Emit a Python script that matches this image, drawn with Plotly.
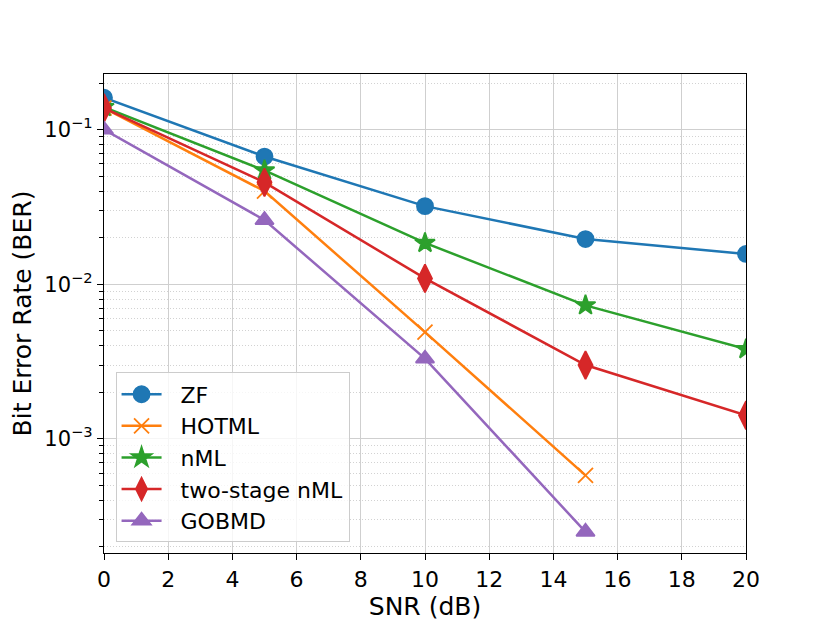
import plotly.graph_objects as go

snr = [0, 5, 10, 15, 20]
snr_short = [0, 5, 10, 15]

ber_zf = [0.161, 0.067, 0.032, 0.0196, 0.0157]
ber_hotml = [0.138, 0.040, 0.0049, 0.00058]
ber_nml = [0.140, 0.0545, 0.0185, 0.0073, 0.0038]
ber_two_stage = [0.138, 0.0456, 0.0109, 0.0030, 0.00142]
ber_gobmd = [0.100, 0.026, 0.0033, 0.00025]

# (name, x, y, colour, marker, size)
series = [
    ("ZF", snr, ber_zf, "#1f77b4", "circle", 16),
    ("HOTML", snr_short, ber_hotml, "#ff7f0e", "x-thin-open", 15),
    ("nML", snr, ber_nml, "#2ca02c", "star", 15),
    ("two-stage nML", snr, ber_two_stage, "#d62728", "diamond-tall", 20),
    ("GOBMD", snr_short, ber_gobmd, "#9467bd", "triangle-up", 16),
]

fig = go.Figure()
for name, x, y, col, sym, sz in series:
    fig.add_trace(go.Scatter(
        x=x, y=y, name="\u00a0\u00a0" + name, mode="lines+markers", legendgroup=name,
        line=dict(color=col, width=2.5),
        marker=dict(symbol=sym, size=sz, color=col, line=dict(color=col, width=1.8)),
    ))

decades = [1e-4, 1e-3, 1e-2, 1e-1]
minor_vals = [m * d for d in decades for m in range(2, 10)]

# page body adds ~8px offset, so margins are shifted to compensate
fig.update_layout(
    width=830, height=622,
    margin=dict(l=96, r=92, t=66, b=77),
    plot_bgcolor="white", paper_bgcolor="white",
    font=dict(family="DejaVu Sans", size=21, color="black"),
    showlegend=True,
    legend=dict(
        x=0.018, y=0.022, xanchor="left", yanchor="bottom",
        bgcolor="rgba(255,255,255,0.8)", bordercolor="#cccccc", borderwidth=1,
        font=dict(size=22), itemwidth=40, tracegroupgap=0, traceorder="grouped",
    ),
    xaxis=dict(
        title=dict(text="SNR (dB)", font=dict(size=25), standoff=4),
        range=[0, 20], tickvals=list(range(0, 21, 2)),
        tickfont=dict(size=22),
        showgrid=True, gridcolor="#cfcfcf", gridwidth=1,
        ticks="outside", ticklen=6, tickcolor="black",
        showline=True, linecolor="black", linewidth=1.2, mirror=True,
        zeroline=False,
    ),
    yaxis=dict(
        title=dict(text="Bit Error Rate (BER)", font=dict(size=25), standoff=8),
        type="log", range=[-3.739, -0.64],
        tickvals=[1e-3, 1e-2, 1e-1],
        ticktext=["10<sup>−3</sup>", "10<sup>−2</sup>", "10<sup>−1</sup>"],
        tickfont=dict(size=21),
        showgrid=True, gridcolor="#cfcfcf", gridwidth=1,
        ticks="outside", ticklen=6, tickcolor="black",
        minor=dict(tickvals=minor_vals, ticks="outside", ticklen=3.5, tickcolor="black",
                   showgrid=True, gridcolor="#d2d2d2", griddash="1px,2px", gridwidth=0.8),
        showline=True, linecolor="black", linewidth=1.2, mirror=True,
        zeroline=False,
    ),
)

fig.write_html("out.html")
